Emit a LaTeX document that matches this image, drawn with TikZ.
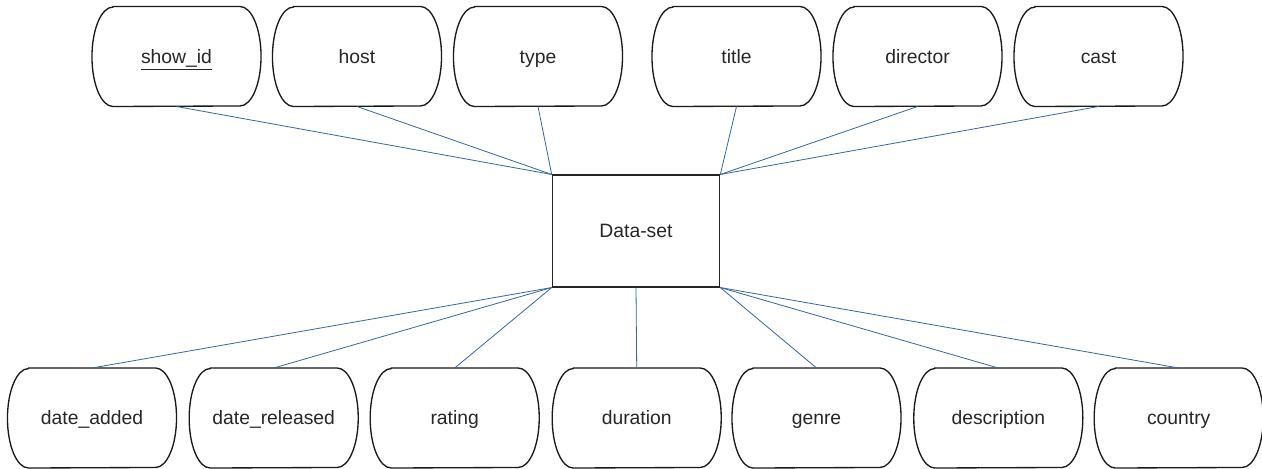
\documentclass[tikz,border=0pt]{standalone}
\usepackage{fontspec}
\setmainfont{Liberation Sans}
\usetikzlibrary{calc}
\definecolor{linkblue}{HTML}{3465A4}
\begin{document}
\begin{tikzpicture}[x=0.75pt,y=-0.75pt,
  attr/.style={rectangle, draw=none, minimum width=126.4pt, minimum height=74.6pt, inner sep=0pt,
    text height=13.1pt, text depth=3.1pt,
    font=\fontsize{14.5}{17}\selectfont, text=black!85},
  attrline/.style={draw=black!90, line width=1pt},
  entbox/.style={rectangle, draw=black!85, line width=1.2pt, minimum width=125.25pt, minimum height=83.6pt,
    inner sep=0pt, text height=13.1pt, text depth=3.1pt,
    font=\fontsize{14.5}{17}\selectfont, text=black!85},
  link/.style={draw=linkblue, line width=0.6pt}]
\useasboundingbox (0,0) rectangle (1262,468);
% entity
\node[entbox] (ds) at (636,231) {Data-set};
% top attributes
\node[attr] (showid)   at (176.5,56.5) {\underline{show\_id}};
\node[attr] (host)     at (357,56.5)   {host};
\node[attr] (type)     at (538,56.5)   {type};
\node[attr] (title)    at (736.5,56.5) {title};
\node[attr] (director) at (917.5,56.5) {director};
\node[attr] (cast)     at (1098.5,56.5){cast};
% bottom attributes
\node[attr] (dadded)   at (92,418)     {date\_added};
\node[attr] (drel)     at (273.7,418)  {date\_released};
\node[attr] (rating)   at (454.7,418)  {rating};
\node[attr] (duration) at (636.7,418)  {duration};
\node[attr] (genre)    at (816.5,418)  {genre};
\node[attr] (descr)    at (998.3,418)  {description};
\node[attr] (country)  at (1178.7,418) {country};
% outlines of attribute shapes
\foreach \n in {showid,host,type,title,director,cast,dadded,drel,rating,duration,genre,descr,country}{
  \draw[attrline] ($(\n.north west)+(15.75pt,0)$) -- ($(\n.north east)+(-15.75pt,0)$)
    arc[start angle=90,end angle=-90,x radius=15.75pt,y radius=37.3pt]
    -- ($(\n.south west)+(15.75pt,0)$)
    arc[start angle=270,end angle=90,x radius=15.75pt,y radius=37.3pt] -- cycle;
}
% connectors
\draw[link] (showid.south) -- (ds.north west);
\draw[link] (host.south) -- (ds.north west);
\draw[link] (type.south) -- (ds.north west);
\draw[link] (title.south) -- (ds.north east);
\draw[link] (director.south) -- (ds.north east);
\draw[link] (cast.south) -- (ds.north east);
\draw[link] (dadded.north) -- (ds.south west);
\draw[link] (drel.north) -- (ds.south west);
\draw[link] (rating.north) -- (ds.south west);
\draw[link] (duration.north) -- (ds.south);
\draw[link] (genre.north) -- (ds.south east);
\draw[link] (descr.north) -- (ds.south east);
\draw[link] (country.north) -- (ds.south east);
\end{tikzpicture}
\end{document}
